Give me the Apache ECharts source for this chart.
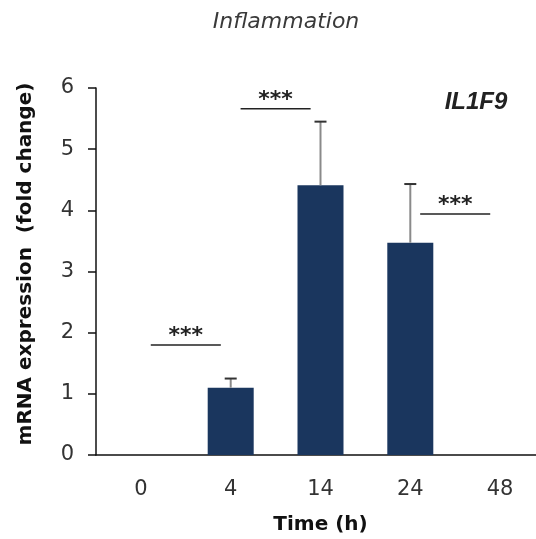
<!DOCTYPE html>
<html>
<head>
<meta charset="utf-8">
<script src="https://cdn.jsdelivr.net/npm/echarts@6/dist/echarts.min.js"></script>
<style>
html,body{margin:0;padding:0;background:#fff;overflow:hidden;}
#chart{width:536px;height:539px;}
</style>
</head>
<body>
<div id="chart"></div>
<script>
// ---- data ----
const categories = ['0', '4', '14', '24', '48'];
const meanValues = [0, 1.1, 4.41, 3.47, 0];
const errorUpper = [null, 1.25, 5.45, 4.43, null];
// significance markers: [left category index, level, label]; drawn between category i and i+1
const sigMarks = [[0, 1.8, '***'], [1, 5.66, '***'], [3, 3.94, '***']];
const yMin = 0, yMax = 6, yInterval = 1;
const chartTitle = 'Inflammation';
const geneLabel = 'IL1F9';
const yTitle = 'mRNA expression  (fold change)';
const xTitle = 'Time (h)';

const chart = echarts.init(document.getElementById('chart'), null, {renderer: 'canvas'});

const errData = [];
errorUpper.forEach((u, i) => { if (u != null) errData.push([i, meanValues[i], u]); });

const option = {
  animation: false,
  backgroundColor: '#fff',
  title: {
    text: chartTitle,
    left: 281, top: 6,
    textAlign: 'center',
    textStyle: {fontFamily: 'DejaVu Sans', fontStyle: 'italic', fontWeight: 'normal', fontSize: 22, color: '#3a3a3a'}
  },
  grid: {left: 96, top: 88, width: 449, height: 367, containLabel: false, outerBoundsMode: 'none'},
  xAxis: {
    type: 'category',
    data: categories,
    axisLine: {show: true, lineStyle: {color: '#111', width: 1.5}},
    axisTick: {show: false},
    axisLabel: {margin: 24, fontFamily: 'DejaVu Sans', fontSize: 21, color: '#333'},
    name: xTitle,
    nameLocation: 'middle',
    nameGap: 60,
    nameTextStyle: {fontFamily: 'DejaVu Sans', fontWeight: 'bold', fontSize: 20, color: '#111', verticalAlign: 'top'}
  },
  yAxis: {
    type: 'value',
    min: yMin, max: yMax, interval: yInterval,
    splitLine: {show: false},
    axisLine: {show: true, lineStyle: {color: '#111', width: 1.5}},
    axisTick: {show: true, inside: false, length: 8, lineStyle: {color: '#111', width: 1.5}},
    axisLabel: {margin: 22, fontFamily: 'DejaVu Sans', fontSize: 21, color: '#333'}
  },
  graphic: [
    {type: 'text', x: 476, y: 102, style: {text: geneLabel, fontFamily: 'Liberation Sans', fontStyle: 'italic', fontWeight: 'bold', fontSize: 24, fill: '#222', align: 'center', verticalAlign: 'middle'}},
    {type: 'text', x: 26, y: 264, rotation: Math.PI / 2, style: {text: yTitle, fontFamily: 'DejaVu Sans', fontWeight: 'bold', fontSize: 20, fill: '#111', align: 'center', verticalAlign: 'middle'}}
  ],
  series: [
    {
      type: 'bar',
      data: meanValues,
      barWidth: 46,
      itemStyle: {color: '#1a365e', borderWidth: 0},
      z: 2
    },
    {
      type: 'custom',
      data: errData,
      encode: {x: 0, y: 1},
      z: 3,
      renderItem: function (params, api) {
        const i = api.value(0);
        const top = api.coord([i, api.value(1)]);
        const up = api.coord([i, api.value(2)]);
        const cap = 6;
        return {
          type: 'group',
          children: [
            {type: 'line', shape: {x1: top[0], y1: top[1], x2: up[0], y2: up[1]}, style: {stroke: '#8a8a8a', lineWidth: 2}},
            {type: 'line', shape: {x1: up[0] - cap, y1: up[1], x2: up[0] + cap, y2: up[1]}, style: {stroke: '#333', lineWidth: 2}}
          ]
        };
      }
    },
    {
      type: 'custom',
      data: sigMarks,
      encode: {x: 0, y: 1},
      z: 4,
      clip: false,
      renderItem: function (params, api) {
        const i = api.value(0);
        const p1 = api.coord([i, api.value(1)]);
        const p2 = api.coord([i + 1, api.value(1)]);
        const mid = (p1[0] + p2[0]) / 2;
        const half = 0.39 * (p2[0] - p1[0]);
        return {
          type: 'group',
          children: [
            {type: 'line', shape: {x1: mid - half, y1: p1[1], x2: mid + half, y2: p1[1]}, style: {stroke: '#222', lineWidth: 1.5}},
            {type: 'text', x: mid, y: p1[1] + 2, style: {text: sigMarks[params.dataIndex][2], fontFamily: 'DejaVu Sans', fontWeight: 'bold', fontSize: 22, fill: '#222', align: 'center', verticalAlign: 'bottom'}}
          ]
        };
      }
    }
  ]
};
chart.setOption(option);
</script>
</body>
</html>
